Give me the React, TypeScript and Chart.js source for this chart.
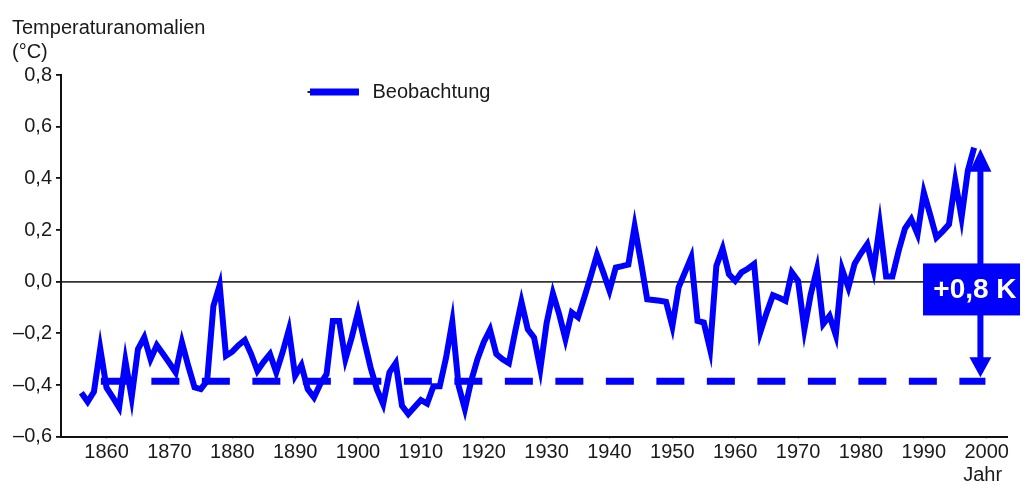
import React, { useEffect, useRef } from "react";
import { Chart, registerables } from "chart.js";

Chart.register(...registerables);

// ---------- data ----------
const firstYear = 1856;
const anomalies = [
  -0.43, -0.465, -0.426, -0.258, -0.41, -0.448, -0.487, -0.306, -0.448, -0.261,
  -0.216, -0.3, -0.246, -0.28, -0.315, -0.351, -0.235, -0.326, -0.409, -0.416,
  -0.384, -0.094, -0.014, -0.287, -0.271, -0.246, -0.226, -0.28, -0.345, -0.31,
  -0.28, -0.351, -0.274, -0.186, -0.364, -0.323, -0.416, -0.448, -0.396, -0.358,
  -0.152, -0.152, -0.3, -0.216, -0.119, -0.229, -0.332, -0.416, -0.474, -0.351,
  -0.315, -0.48, -0.512, -0.485, -0.458, -0.472, -0.405, -0.405, -0.295, -0.155,
  -0.403, -0.493, -0.384, -0.3, -0.234, -0.186, -0.28, -0.3, -0.315, -0.193,
  -0.078, -0.184, -0.216, -0.338, -0.16, -0.046, -0.126, -0.222, -0.119, -0.138,
  -0.061, 0.02, 0.104, 0.037, -0.034, 0.055, 0.06, 0.066, 0.214, 0.077,
  -0.068, -0.071, -0.074, -0.078, -0.173, -0.022, 0.036, 0.094, -0.152, -0.158,
  -0.261, 0.061, 0.128, 0.029, 0.003, 0.036, 0.05, 0.068, -0.195, -0.12,
  -0.052, -0.062, -0.074, 0.036, 0.003, -0.184, -0.05, 0.048, -0.164, -0.132,
  -0.207, 0.048, -0.022, 0.07, 0.11, 0.145, 0.046, 0.22, 0.02, 0.02,
  0.12, 0.206, 0.242, 0.184, 0.345, 0.26, 0.171, 0.195, 0.222, 0.39,
  0.248, 0.43, 0.519,
];
const baselineValue = -0.385;
const baselineYears = [1859.1, 1999.8];
const xTickValues = [1860, 1870, 1880, 1890, 1900, 1910, 1920, 1930, 1940, 1950, 1960, 1970, 1980, 1990, 2000];
const yTickValues = [-0.6, -0.4, -0.2, 0, 0.2, 0.4, 0.6, 0.8];
const xMin = 1852.76;
const xMax = 2003.34;
const yMin = -0.6;
const yMax = 0.8;
const arrowYear = 1999;
const arrowTop = 0.515;
const arrowBottom = -0.37;
const boxValue = -0.03;
const boxLabel = "+0,8 K";
const seriesLabel = "Beobachtung";
const yTitleLines = ["Temperaturanomalien", "(°C)"];
const xTitle = "Jahr";

const BLUE = "#0000ff";
const FONT = "'Liberation Sans', Arial, sans-serif";
const TEXT = "#1a1a1a";

const fmtY = (v: number) => {
  const s = Math.abs(v).toFixed(1).replace(".", ",");
  return v < -1e-9 ? "\u2013" + s : s;
};

const overlayPlugin = {
  id: "overlay",
  afterDatasetsDraw(chart: any) {
    const { ctx } = chart;
    const x = chart.scales.x;
    const y = chart.scales.y;
    const ax = x.getPixelForValue(arrowYear);
    const top = y.getPixelForValue(arrowTop);
    const bot = y.getPixelForValue(arrowBottom);
    ctx.save();
    ctx.fillStyle = BLUE;
    ctx.strokeStyle = BLUE;
    ctx.lineWidth = 6;
    ctx.beginPath();
    ctx.moveTo(ax, top + 20);
    ctx.lineTo(ax, bot - 18);
    ctx.stroke();
    ctx.beginPath();
    ctx.moveTo(ax, top);
    ctx.lineTo(ax - 11, top + 23);
    ctx.lineTo(ax + 11, top + 23);
    ctx.closePath();
    ctx.fill();
    ctx.beginPath();
    ctx.moveTo(ax, bot);
    ctx.lineTo(ax - 11, bot - 20);
    ctx.lineTo(ax + 11, bot - 20);
    ctx.closePath();
    ctx.fill();
    const cy = y.getPixelForValue(boxValue);
    ctx.fillRect(ax - 57.4, cy - 26, 97, 52);
    ctx.fillStyle = "#ffffff";
    ctx.font = "bold 28px " + FONT;
    ctx.textAlign = "center";
    ctx.textBaseline = "middle";
    ctx.fillText(boxLabel, ax - 5.5, cy + 1);
    ctx.restore();
  },
  afterDraw(chart: any) {
    const { ctx } = chart;
    const x = chart.scales.x;
    ctx.save();
    ctx.fillStyle = TEXT;
    ctx.font = "20px " + FONT;
    ctx.textAlign = "left";
    ctx.textBaseline = "alphabetic";
    ctx.fillText(yTitleLines[0], 12, 33.5);
    ctx.fillText(yTitleLines[1], 12, 57.5);
    // x title
    ctx.fillText(xTitle, x.getPixelForValue(2000) - 23.5, 481);
    // legend
    ctx.strokeStyle = BLUE;
    ctx.lineWidth = 7;
    ctx.beginPath();
    ctx.moveTo(310, 92);
    ctx.lineTo(359, 92);
    ctx.stroke();
    ctx.strokeStyle = "#222";
    ctx.lineWidth = 2;
    ctx.beginPath();
    ctx.moveTo(307.5, 92);
    ctx.lineTo(311, 92);
    ctx.stroke();
    ctx.fillStyle = TEXT;
    ctx.textBaseline = "middle";
    ctx.fillText(seriesLabel, 372.5, 92.5);
    ctx.restore();
  },
};

export default function App() {
  const ref = useRef<HTMLCanvasElement | null>(null);
  useEffect(() => {
    if (!ref.current) return;
    Chart.defaults.font.family = FONT;
    const series = anomalies.map((v, i) => ({ x: firstYear + i, y: v }));
    const baseline = baselineYears.map((yr) => ({ x: yr, y: baselineValue }));
    const chart = new Chart(ref.current, {
      type: "line",
      data: {
        datasets: [
          {
            label: seriesLabel,
            data: series,
            borderColor: BLUE,
            backgroundColor: BLUE,
            borderWidth: 6,
            pointRadius: 0,
            tension: 0,
            borderJoinStyle: "miter",
            borderCapStyle: "butt",
          },
          {
            label: "Basis",
            data: baseline,
            borderColor: BLUE,
            borderWidth: 7,
            borderDash: [28, 22.5],
            pointRadius: 0,
          },
        ],
      },
      options: {
        responsive: false,
        animation: false,
        devicePixelRatio: 1,
        layout: { padding: { top: 75, right: 15.3, bottom: 0, left: 0 } },
        plugins: { legend: { display: false }, tooltip: { enabled: false }, title: { display: false } },
        scales: {
          x: {
            type: "linear",
            min: xMin,
            max: xMax,
            afterBuildTicks: (s: any) => {
              s.ticks = xTickValues.map((v) => ({ value: v }));
            },
            afterFit: (s: any) => {
              s.height = 48.3;
              s.paddingLeft = 0;
              s.paddingRight = 0;
            },
            grid: { display: true, drawOnChartArea: false, drawTicks: true, tickLength: 2, color: "#999", lineWidth: 1 },
            border: { display: true, color: "#111", width: 2 },
            ticks: {
              padding: 2,
              color: TEXT,
              font: { size: 20, family: FONT },
              maxRotation: 0,
              autoSkip: false,
              callback: (v: any) => String(v),
            },
          },
          y: {
            type: "linear",
            min: yMin,
            max: yMax,
            afterBuildTicks: (s: any) => {
              s.ticks = yTickValues.map((v) => ({ value: v }));
            },
            afterFit: (s: any) => {
              s.width = 61;
              s.paddingTop = 0;
              s.paddingBottom = 0;
            },
            grid: {
              display: true,
              drawOnChartArea: true,
              drawTicks: true,
              tickLength: 5,
              lineWidth: 1.8,
              color: (c: any) => (c.tick && Math.abs(c.tick.value) < 1e-9 ? "#333" : "rgba(0,0,0,0)"),
              tickColor: "#111",
            },
            border: { display: true, color: "#111", width: 2 },
            ticks: {
              padding: 4,
              color: TEXT,
              font: { size: 20, family: FONT },
              autoSkip: false,
              callback: (v: any) => fmtY(Number(v)),
            },
          },
        },
      },
      plugins: [overlayPlugin],
    } as any);
    return () => chart.destroy();
  }, []);
  return (
    <div style={{ position: "absolute", left: 0, top: 0, width: 1023, height: 485, background: "#fff" }}>
      <canvas ref={ref} width={1023} height={485} style={{ display: "block" }} />
    </div>
  );
}
